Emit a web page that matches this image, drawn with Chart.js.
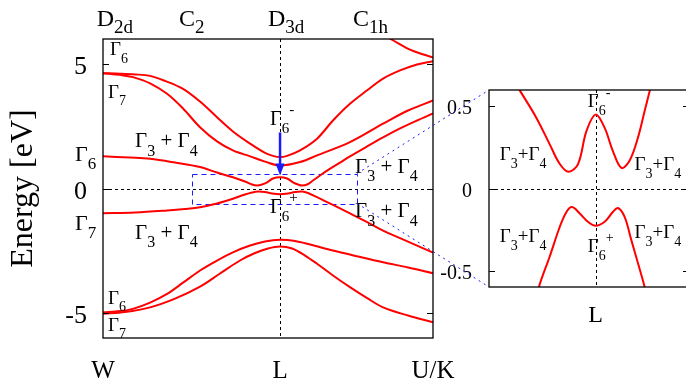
<!DOCTYPE html>
<html>
<head>
<meta charset="utf-8">
<script src="https://cdn.jsdelivr.net/npm/chart.js@4/dist/chart.umd.min.js"></script>
<style>
  html, body { margin: 0; padding: 0; background: #fff; overflow: hidden; }
  #wrap { position: relative; width: 686px; height: 388px; overflow: hidden; }
  canvas { position: absolute; left: 0; top: 0; }
</style>
</head>
<body>
<div id="wrap">
  <canvas id="bands" width="686" height="388"></canvas>
  <canvas id="zoom" width="700" height="388"></canvas>
</div>
<script>
// path positions (W = 0, L = 1, U/K = end)
const kL = 1.0;
const kEnd = 1.864;
const xTickK = [0, kL, kEnd];
const xTickLabels = ['W', 'L', 'U/K'];
const yTicks = [-5, 0, 5];
const zoomTicks = [-0.5, 0, 0.5];

// zoomed window (k range, energy range)
const boxK = [0.503, 1.435];
const boxE = [-0.6, 0.6];
const arrowE = [2.25, 0.52];

// bands of the main panel
const kT = [1.537, 1.640, 1.734, 1.810, 1.864];
const eT = [6.36, 5.94, 5.57, 5.38, 5.26];

const kA = [0, 0.096, 0.181, 0.266, 0.350, 0.452, 0.548, 0.644, 0.734, 0.831, 0.915, 0.960, 1.0,
            1.040, 1.113, 1.209, 1.299, 1.395, 1.492, 1.582, 1.678, 1.774, 1.864];
const eA = [4.63, 4.61, 4.58, 4.52, 4.32, 4.00, 3.49, 2.86, 2.29, 1.80, 1.43, 1.31, 1.26,
            1.31, 1.53, 2.00, 2.73, 3.40, 3.94, 4.41, 4.74, 4.98, 5.11];

const kB = [0, 0.096, 0.169, 0.266, 0.362, 0.452, 0.548, 0.644, 0.734, 0.831, 0.915, 1.0,
            1.113, 1.209, 1.395, 1.582, 1.723, 1.864];
const eB = [4.63, 4.56, 4.47, 4.22, 3.80, 3.21, 2.46, 1.89, 1.53, 1.29, 1.08, 0.92,
            1.06, 1.33, 1.86, 2.60, 3.13, 3.53];

const kC = [0, 0.153, 0.266, 0.407, 0.548, 0.644, 0.734, 0.802, 0.842, 0.870, 0.898, 0.927, 0.960, 1.0,
            1.040, 1.073, 1.102, 1.124, 1.153, 1.186, 1.226, 1.266, 1.339, 1.395, 1.492, 1.582, 1.678, 1.774, 1.864];
const eC = [1.29, 1.24, 1.19, 1.04, 0.86, 0.64, 0.45, 0.28, 0.16, 0.12, 0.16, 0.25, 0.40, 0.45,
            0.40, 0.25, 0.16, 0.12, 0.16, 0.32, 0.52, 0.72, 1.04, 1.29, 1.69, 2.05, 2.41, 2.73, 3.01];

const kD = [0, 0.181, 0.362, 0.463, 0.548, 0.644, 0.734, 0.802, 0.842, 0.876, 0.915, 0.955, 1.0,
            1.045, 1.085, 1.124, 1.158, 1.209, 1.299, 1.395, 1.492, 1.582, 1.678, 1.774, 1.864];
const eD = [-0.99, -0.96, -0.88, -0.82, -0.75, -0.60, -0.41, -0.24, -0.16, -0.12, -0.14, -0.20, -0.23,
            -0.20, -0.14, -0.12, -0.18, -0.35, -0.66, -1.00, -1.35, -1.69, -1.99, -2.29, -2.57];

const kE = [0, 0.096, 0.169, 0.266, 0.362, 0.452, 0.548, 0.644, 0.734, 0.831, 0.915, 1.0,
            1.085, 1.169, 1.299, 1.441, 1.582, 1.723, 1.864];
const eE = [-4.97, -4.92, -4.83, -4.58, -4.23, -3.78, -3.29, -2.89, -2.56, -2.29, -2.13, -2.06,
            -2.11, -2.25, -2.49, -2.73, -2.96, -3.17, -3.40];

const kF = [0, 0.124, 0.266, 0.407, 0.548, 0.661, 0.774, 0.859, 0.932, 1.0,
            1.068, 1.141, 1.209, 1.299, 1.395, 1.492, 1.582, 1.723, 1.864];
const eF = [-5.03, -4.96, -4.77, -4.42, -3.94, -3.41, -2.89, -2.59, -2.41, -2.33,
            -2.41, -2.69, -3.02, -3.49, -3.96, -4.40, -4.77, -5.10, -5.37];

// bands of the zoomed panel
const kZU = [0.620, 0.650, 0.724, 0.786, 0.833, 0.874, 0.918, 0.957, 1.0, 1.042, 1.080, 1.120, 1.158, 1.197, 1.228, 1.251, 1.270];
const eZU = [0.655, 0.590, 0.430, 0.269, 0.149, 0.102, 0.149, 0.349, 0.450, 0.369, 0.229, 0.125, 0.169, 0.309, 0.470, 0.590, 0.690];
const kZL = [0.720, 0.736, 0.786, 0.833, 0.864, 0.890, 0.926, 0.964, 1.0, 1.042, 1.080, 1.104, 1.135, 1.166, 1.197, 1.228, 1.245];
const eZL = [-0.700, -0.598, -0.414, -0.233, -0.143, -0.113, -0.152, -0.203, -0.227, -0.203, -0.143, -0.119, -0.173, -0.313, -0.454, -0.598, -0.700];

// symmetry labels along the top
const topLabels = ['D_{2d}', 'C_2', 'D_{3d}', 'C_{1h}'];
const topLabelK = [-0.036, 0.429, 0.932, 1.412];

// state labels (position in k / energy units)
const mainNotes = [
  { text: 'Γ_6', k: 0.040, e: 5.34, size: 19 },
  { text: 'Γ_7', k: 0.028, e: 3.65, size: 19 },
  { text: 'Γ_3 + Γ_4', k: 0.181, e: 1.65, size: 21 },
  { text: 'Γ_6', k: -0.158, e: 1.12, size: 22 },
  { text: 'Γ_7', k: -0.158, e: -1.65, size: 22 },
  { text: 'Γ_3 + Γ_4', k: 0.181, e: -2.01, size: 21 },
  { text: 'Γ_6^-', k: 0.944, e: 2.53, size: 20 },
  { text: 'Γ_3 + Γ_4', k: 1.424, e: 0.64, size: 21 },
  { text: 'Γ_3 + Γ_4', k: 1.424, e: -1.16, size: 21 },
  { text: 'Γ_6^+', k: 0.944, e: -1.00, size: 20 },
  { text: 'Γ_6', k: 0.028, e: -4.62, size: 19 },
  { text: 'Γ_7', k: 0.028, e: -5.70, size: 19 }
];
const zoomNotes = [
  { text: 'Γ_6^-', k: 0.963, e: 0.496, size: 19 },
  { text: 'Γ_3+Γ_4', k: 0.553, e: 0.174, size: 19 },
  { text: 'Γ_3+Γ_4', k: 1.181, e: 0.113, size: 19 },
  { text: 'Γ_3+Γ_4', k: 0.553, e: -0.326, size: 19 },
  { text: 'Γ_3+Γ_4', k: 1.181, e: -0.301, size: 19 },
  { text: 'Γ_6^+', k: 0.963, e: -0.387, size: 19 }
];

const FONT = '"Liberation Serif", "Times New Roman", serif';
const RED = '#ff0000';
const BLUE = '#1a1aff';

function band(k, e) {
  return {
    data: k.map((x, i) => ({ x: x, y: e[i] })),
    borderColor: RED,
    borderWidth: 2,
    pointRadius: 0,
    fill: false,
    tension: 0.35,
    clip: 0
  };
}

function line(ctx, x1, y1, x2, y2) {
  ctx.beginPath();
  ctx.moveTo(x1, y1);
  ctx.lineTo(x2, y2);
  ctx.stroke();
}

// text with _sub and ^sup pieces, e.g. 'Γ_6^-' or 'D_{2d}'
function drawRich(ctx, str, x, y, size, align, subScale, subDrop) {
  subScale = subScale || 0.75;
  subDrop = subDrop || 0.4;
  const parts = [];
  let i = 0;
  while (i < str.length) {
    let mode = 'n';
    let c = str[i];
    if (c === '_' || c === '^') {
      mode = c === '_' ? 'sub' : 'sup';
      i++;
      c = str[i];
    }
    let t = c;
    if (c === '{') {
      const j = str.indexOf('}', i);
      t = str.slice(i + 1, j);
      i = j;
    }
    parts.push({ t: t, mode: mode });
    i++;
  }
  const fontFor = m => (m === 'n' ? size : Math.round(size * subScale)) + 'px ' + FONT;
  let w = 0;
  parts.forEach(p => {
    ctx.font = fontFor(p.mode);
    p.w = ctx.measureText(p.t).width;
    w += p.w;
  });
  let cx = align === 'center' ? x - w / 2 : align === 'right' ? x - w : x;
  ctx.textAlign = 'left';
  ctx.textBaseline = 'alphabetic';
  parts.forEach(p => {
    ctx.font = fontFor(p.mode);
    const dy = p.mode === 'sub' ? size * subDrop : p.mode === 'sup' ? -size * 0.55 : 0;
    ctx.fillText(p.t, cx, y + dy);
    cx += p.w;
  });
}

const mainDecor = {
  id: 'mainDecor',
  beforeDatasetsDraw(chart) {
    const { ctx, chartArea: a, scales: { x, y } } = chart;
    ctx.save();
    ctx.strokeStyle = '#000';
    ctx.lineWidth = 1;
    ctx.setLineDash([3, 3]);
    const y0 = Math.round(y.getPixelForValue(0)) + 0.5;
    const xL = Math.round(x.getPixelForValue(kL)) + 0.5;
    line(ctx, a.left, y0, a.right, y0);
    line(ctx, xL, a.top, xL, a.bottom);

    // zoom window
    ctx.strokeStyle = BLUE;
    ctx.setLineDash([5, 4]);
    const bx1 = x.getPixelForValue(boxK[0]), bx2 = x.getPixelForValue(boxK[1]);
    const by1 = y.getPixelForValue(boxE[1]), by2 = y.getPixelForValue(boxE[0]);
    ctx.strokeRect(Math.round(bx1) + 0.5, Math.round(by1) + 0.5, Math.round(bx2 - bx1), Math.round(by2 - by1));
    ctx.restore();
  },
  afterDatasetsDraw(chart) {
    const { ctx, chartArea: a, scales: { x, y } } = chart;
    ctx.save();

    // arrow onto the Γ6- state
    const ax = x.getPixelForValue(kL);
    const ay1 = y.getPixelForValue(arrowE[0]);
    const ay2 = y.getPixelForValue(arrowE[1]);
    ctx.strokeStyle = BLUE;
    ctx.fillStyle = BLUE;
    ctx.lineWidth = 2.5;
    line(ctx, ax, ay1, ax, ay2 - 9);
    ctx.beginPath();
    ctx.moveTo(ax, ay2);
    ctx.lineTo(ax - 4.5, ay2 - 12);
    ctx.lineTo(ax + 4.5, ay2 - 12);
    ctx.closePath();
    ctx.fill();

    // frame and inward ticks
    ctx.strokeStyle = '#000';
    ctx.lineWidth = 1.3;
    ctx.strokeRect(a.left, a.top, a.right - a.left, a.bottom - a.top);
    ctx.lineWidth = 1;
    ctx.fillStyle = '#000';
    yTicks.forEach(v => {
      const py = Math.round(y.getPixelForValue(v)) + 0.5;
      line(ctx, a.left, py, a.left + 6, py);
      line(ctx, a.right - 6, py, a.right, py);
      drawRich(ctx, String(v), a.left - 16, py + 9, 26, 'right');
    });
    xTickK.forEach((v, i) => {
      drawRich(ctx, xTickLabels[i], x.getPixelForValue(v), a.bottom + 40, 25, 'center');
    });
    topLabels.forEach((t, i) => {
      drawRich(ctx, t, x.getPixelForValue(topLabelK[i]), a.top - 13, 24, 'left', 0.8, 0.3);
    });
    mainNotes.forEach(n => {
      drawRich(ctx, n.text, x.getPixelForValue(n.k), y.getPixelForValue(n.e), n.size, 'left');
    });

    // axis title
    ctx.translate(32, (a.top + a.bottom) / 2);
    ctx.rotate(-Math.PI / 2);
    ctx.font = '32px ' + FONT;
    ctx.textAlign = 'center';
    ctx.textBaseline = 'alphabetic';
    ctx.fillText('Energy [eV]', 0, 0);
    ctx.restore();
  }
};

const mainChart = new Chart(document.getElementById('bands'), {
  type: 'line',
  data: {
    datasets: [band(kT, eT), band(kA, eA), band(kB, eB), band(kC, eC),
               band(kD, eD), band(kE, eE), band(kF, eF)]
  },
  options: {
    responsive: false,
    animation: false,
    elements: { line: { capBezierPoints: false } },
    layout: { padding: { left: 103, top: 39, right: 253, bottom: 50 } },
    plugins: { legend: { display: false }, tooltip: { enabled: false } },
    scales: {
      x: { type: 'linear', min: 0, max: kEnd, display: false },
      y: { type: 'linear', min: -6, max: 6, display: false }
    }
  },
  plugins: [mainDecor]
});

const zoomDecor = {
  id: 'zoomDecor',
  beforeDatasetsDraw(chart) {
    const { ctx, chartArea: a, scales: { x, y } } = chart;
    ctx.save();
    ctx.strokeStyle = '#000';
    ctx.lineWidth = 1;
    ctx.setLineDash([3, 3]);
    const y0 = Math.round(y.getPixelForValue(0)) + 0.5;
    const xL = Math.round(x.getPixelForValue(kL)) + 0.5;
    line(ctx, a.left, y0, a.right, y0);
    line(ctx, xL, a.top, xL, a.bottom);
    ctx.restore();
  },
  afterDatasetsDraw(chart) {
    const { ctx, chartArea: a, scales: { x, y } } = chart;
    ctx.save();
    ctx.strokeStyle = '#000';
    ctx.fillStyle = '#000';
    ctx.lineWidth = 1.3;
    ctx.strokeRect(a.left, a.top, a.right - a.left, a.bottom - a.top);
    ctx.lineWidth = 1;
    zoomTicks.forEach(v => {
      const py = Math.round(y.getPixelForValue(v)) + 0.5;
      line(ctx, a.left, py, a.left + 6, py);
      line(ctx, a.right - 6, py, a.right, py);
      drawRich(ctx, String(v), a.left - 17, py + 7, 20, 'right');
    });
    drawRich(ctx, 'L', x.getPixelForValue(kL), a.bottom + 35, 24, 'center');
    zoomNotes.forEach(n => {
      drawRich(ctx, n.text, x.getPixelForValue(n.k), y.getPixelForValue(n.e), n.size, 'left');
    });

    // dotted guides from the window in the main panel
    const mx = mainChart.scales.x, my = mainChart.scales.y;
    const bx = mx.getPixelForValue(boxK[1]);
    ctx.strokeStyle = BLUE;
    ctx.setLineDash([2, 4]);
    line(ctx, bx, my.getPixelForValue(boxE[1]), a.left, a.top);
    line(ctx, bx, my.getPixelForValue(boxE[0]), a.left, a.bottom);
    ctx.restore();
  }
};

const zoomChart = new Chart(document.getElementById('zoom'), {
  type: 'line',
  data: { datasets: [band(kZU, eZU), band(kZL, eZL)] },
  options: {
    responsive: false,
    animation: false,
    elements: { line: { capBezierPoints: false } },
    layout: { padding: { left: 489, top: 90, right: 11, bottom: 101 } },
    plugins: { legend: { display: false }, tooltip: { enabled: false } },
    scales: {
      x: { type: 'linear', min: boxK[0], max: boxK[1], display: false },
      y: { type: 'linear', min: boxE[0], max: boxE[1], display: false }
    }
  },
  plugins: [zoomDecor]
});
</script>
</body>
</html>
